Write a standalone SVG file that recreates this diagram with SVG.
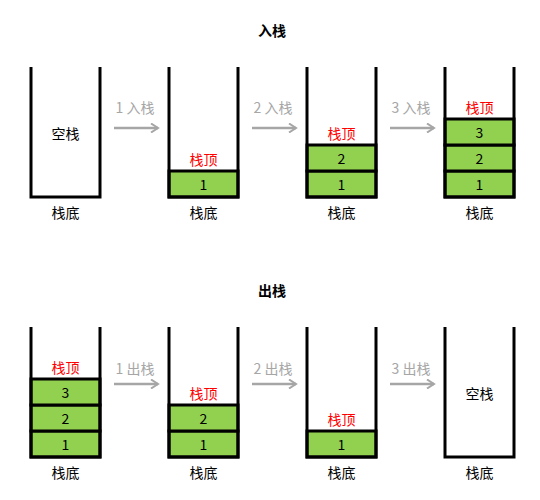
<svg xmlns="http://www.w3.org/2000/svg" width="540" height="500" viewBox="0 0 540 500">
<defs>
<style>
text{font-family:"Microsoft YaHei","Noto Sans CJK SC","DejaVu Sans",sans-serif;font-size:14px;text-anchor:middle;dominant-baseline:central}
.wall{fill:none;stroke:#000;stroke-width:3;stroke-linejoin:miter}
.cell{fill:#92d050;stroke:#000;stroke-width:3}
.top{fill:#ff0000}
.title{font-weight:bold}
.arr{stroke:#a6a6a6;stroke-width:2.5;fill:none}
.lbl{fill:#a6a6a6}
</style>
<marker id="ah" markerWidth="10" markerHeight="10" refX="8" refY="5" orient="auto" markerUnits="userSpaceOnUse">
<path d="M1,0.5 L8,5 L1,9.5" fill="none" stroke="#a6a6a6" stroke-width="2"/>
</marker>
</defs>
<rect width="540" height="500" fill="#fff"/>
<text class="title" x="272" y="30">入栈</text>
<text class="title" x="272" y="290">出栈</text>

<g id="push-s0">
<path class="wall" d="M31,67 V197 H100 V67"/>
<text x="65.5" y="133">空栈</text>
<text x="65.5" y="212">栈底</text>
</g>
<g id="push-s1">
<rect class="cell" x="169" y="171" width="69" height="26"/>
<text x="203.5" y="184">1</text>
<path class="wall" d="M169,67 V197 H238 V67"/>
<text class="top" x="203.5" y="159">栈顶</text>
<text x="203.5" y="212">栈底</text>
</g>
<g id="push-s2">
<rect class="cell" x="307" y="171" width="69" height="26"/>
<rect class="cell" x="307" y="145" width="69" height="26"/>
<text x="341.5" y="184">1</text>
<text x="341.5" y="158">2</text>
<path class="wall" d="M307,67 V197 H376 V67"/>
<text class="top" x="341.5" y="133">栈顶</text>
<text x="341.5" y="212">栈底</text>
</g>
<g id="push-s3">
<rect class="cell" x="445" y="171" width="69" height="26"/>
<rect class="cell" x="445" y="145" width="69" height="26"/>
<rect class="cell" x="445" y="119" width="69" height="26"/>
<text x="479.5" y="184">1</text>
<text x="479.5" y="158">2</text>
<text x="479.5" y="132">3</text>
<path class="wall" d="M445,67 V197 H514 V67"/>
<text class="top" x="479.5" y="107">栈顶</text>
<text x="479.5" y="212">栈底</text>
</g>

<g id="pop-s0">
<rect class="cell" x="31" y="431" width="69" height="26"/>
<rect class="cell" x="31" y="405" width="69" height="26"/>
<rect class="cell" x="31" y="379" width="69" height="26"/>
<text x="65.5" y="444">1</text>
<text x="65.5" y="418">2</text>
<text x="65.5" y="392">3</text>
<path class="wall" d="M31,327 V457 H100 V327"/>
<text class="top" x="65.5" y="367">栈顶</text>
<text x="65.5" y="472">栈底</text>
</g>
<g id="pop-s1">
<rect class="cell" x="169" y="431" width="69" height="26"/>
<rect class="cell" x="169" y="405" width="69" height="26"/>
<text x="203.5" y="444">1</text>
<text x="203.5" y="418">2</text>
<path class="wall" d="M169,327 V457 H238 V327"/>
<text class="top" x="203.5" y="393">栈顶</text>
<text x="203.5" y="472">栈底</text>
</g>
<g id="pop-s2">
<rect class="cell" x="307" y="431" width="69" height="26"/>
<text x="341.5" y="444">1</text>
<path class="wall" d="M307,327 V457 H376 V327"/>
<text class="top" x="341.5" y="419">栈顶</text>
<text x="341.5" y="472">栈底</text>
</g>
<g id="pop-s3">
<path class="wall" d="M445,327 V457 H514 V327"/>
<text x="479.5" y="393">空栈</text>
<text x="479.5" y="472">栈底</text>
</g>

<g id="connectors">
<line class="arr" x1="114" y1="128" x2="158" y2="128" marker-end="url(#ah)"/>
<line class="arr" x1="252" y1="128" x2="296" y2="128" marker-end="url(#ah)"/>
<line class="arr" x1="390" y1="128" x2="434" y2="128" marker-end="url(#ah)"/>
<line class="arr" x1="114" y1="384" x2="158" y2="384" marker-end="url(#ah)"/>
<line class="arr" x1="252" y1="384" x2="296" y2="384" marker-end="url(#ah)"/>
<line class="arr" x1="390" y1="384" x2="434" y2="384" marker-end="url(#ah)"/>
<text class="lbl" x="135" y="107">1 入栈</text>
<text class="lbl" x="273" y="107">2 入栈</text>
<text class="lbl" x="411" y="107">3 入栈</text>
<text class="lbl" x="135" y="368">1 出栈</text>
<text class="lbl" x="273" y="368">2 出栈</text>
<text class="lbl" x="411" y="368">3 出栈</text>
</g>
</svg>
